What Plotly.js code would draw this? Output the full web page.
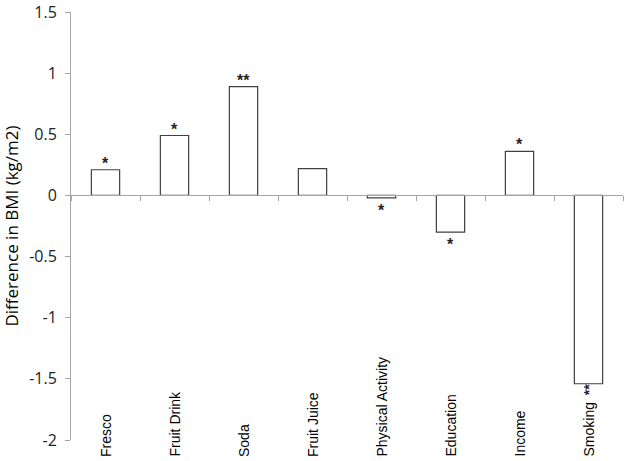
<!DOCTYPE html>
<html>
<head>
<meta charset="utf-8">
<script src="https://cdn.plot.ly/plotly-3.0.1.min.js"></script>
<style>
  html, body { margin: 0; padding: 0; background: #fff; }
  #plot { width: 629px; height: 461px; }
</style>
</head>
<body>
<div id="plot"></div>
<script>
// Categories along the x axis and the difference in BMI for each one
var categories = ['Fresco', 'Fruit Drink', 'Soda', 'Fruit Juice', 'Physical Activity', 'Education', 'Income', 'Smoking'];
var bmiDiff = [0.21, 0.49, 0.89, 0.22, -0.02, -0.30, 0.36, -1.54];
// Significance marks shown next to each bar
var stars = ['*', '*', '**', '', '*', '*', '*', '**'];
var yTicks = [1.5, 1, 0.5, 0, -0.5, -1, -1.5, -2];

var trace = [{
    x: categories,
    y: bmiDiff,
    type: 'bar',
    width: 0.41,
    marker: { color: '#ffffff', line: { color: '#404040', width: 1.2 } },
    hoverinfo: 'x+y'
}];

var annotations = [];
// star marks: above positive bars, below negative ones
for (var i = 0; i < categories.length; i++) {
    if (!stars[i]) continue;
    var up = bmiDiff[i] >= 0;
    var rotated = categories[i] === 'Smoking';
    var a = {
        x: categories[i], y: bmiDiff[i], xref: 'x', yref: 'y',
        text: '<b>' + stars[i] + '</b>', showarrow: false,
        yanchor: up ? 'bottom' : 'top',
        yshift: up ? -4 : -2,
        font: { family: 'Liberation Sans, Arial', size: 16, color: '#2a1f1f' }
    };
    if (rotated) {
        // the last mark runs sideways like the label under it
        a.textangle = -90;
        a.yanchor = 'middle';
        a.yshift = -6;
        a.font.size = 14;
    }
    annotations.push(a);
}
// category labels sit at the bottom of the chart, rotated
for (var i = 0; i < categories.length; i++) {
    annotations.push({
        x: categories[i], y: 0, xref: 'x', yref: 'paper',
        text: categories[i], showarrow: false, textangle: -90,
        yanchor: 'bottom', yshift: -19,
        font: { family: 'Liberation Sans, Arial', size: 14, color: '#000' }
    });
}

var layout = {
    width: 629, height: 461,
    margin: { l: 71, r: 6, t: 12, b: 21 },
    paper_bgcolor: '#fff', plot_bgcolor: '#fff',
    showlegend: false,
    xaxis: {
        type: 'category',
        anchor: 'free',
        position: 2 / 3.5,
        showline: true, linecolor: '#a6a6a6', linewidth: 1,
        ticks: 'outside', tickson: 'boundaries', ticklen: 5, tickcolor: '#a6a6a6',
        showticklabels: false, showgrid: false, zeroline: false
    },
    yaxis: {
        range: [-2, 1.5],
        tickvals: yTicks,
        ticktext: yTicks.map(String),
        showline: true, linecolor: '#a6a6a6', linewidth: 1,
        ticks: 'outside', ticklen: 5, tickcolor: '#a6a6a6',
        ticklabelstandoff: 5,
        showgrid: false, zeroline: false,
        tickfont: { family: 'Open Sans, DejaVu Sans', size: 16, color: '#222' },
        title: { text: 'Difference in BMI (kg/m2)', standoff: 10,
                 font: { family: 'Open Sans, DejaVu Sans', size: 17, color: '#000' } }
    },
    annotations: annotations
};

var config = { staticPlot: true };
Plotly.newPlot('plot', trace, layout, config);
</script>
</body>
</html>
